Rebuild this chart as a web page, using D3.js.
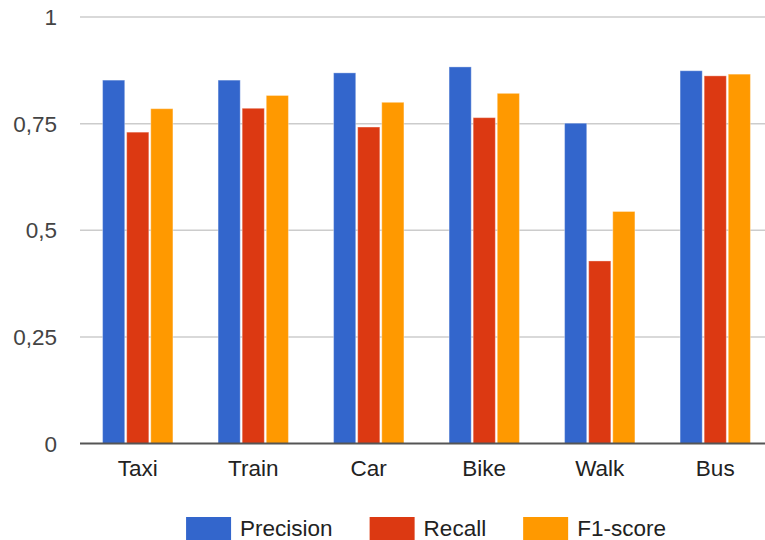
<!DOCTYPE html>
<html>
<head>
<meta charset="utf-8">
<script src="https://cdn.jsdelivr.net/npm/d3@7"></script>
<style>
  html, body { margin: 0; padding: 0; background: #fff; }
  svg { display: block; font-family: "Liberation Sans", Arial, sans-serif; }
</style>
</head>
<body>
<svg id="chart" width="765" height="540"></svg>
<script>
const categories = ["Taxi", "Train", "Car", "Bike", "Walk", "Bus"];
const seriesNames = ["Precision", "Recall", "F1-score"];
const precision = [0.852, 0.852, 0.869, 0.883, 0.751, 0.874];
const recall    = [0.730, 0.786, 0.742, 0.764, 0.428, 0.862];
const f1score   = [0.785, 0.816, 0.800, 0.821, 0.544, 0.866];
const yTicks = [0, 0.25, 0.5, 0.75, 1];
const colors = ["#3366cc", "#dc3912", "#ff9900"];

const seriesValues = [precision, recall, f1score];
const svg = d3.select("#chart");
const FS = 22.5;

const x0 = d3.scaleBand().domain(categories).range([80, 773])
  .paddingInner(0.391).paddingOuter(0.1955);
const x1 = d3.scaleBand().domain(seriesNames).range([0, x0.bandwidth()])
  .paddingInner(0.08).paddingOuter(0);
const y = d3.scaleLinear().domain([0, 1]).range([443.5, 17]);
const color = d3.scaleOrdinal().domain(seriesNames).range(colors);
const fmt = v => String(v).replace(".", ",");

// gridlines
svg.append("g").selectAll("line").data(yTicks.filter(t => t > 0)).join("line")
  .attr("x1", 80).attr("x2", 765)
  .attr("y1", d => y(d)).attr("y2", d => y(d))
  .attr("stroke", "#cccccc").attr("stroke-width", 1.5);

// y labels
svg.append("g").selectAll("text").data(yTicks).join("text")
  .attr("x", 57).attr("y", d => y(d)).attr("dy", "0.36em")
  .attr("text-anchor", "end").attr("font-size", FS).attr("fill", "#444")
  .text(fmt);

// bars
const rows = categories.map((c, i) => ({ c, vals: seriesNames.map((s, j) => ({ s, v: seriesValues[j][i] })) }));
const groups = svg.append("g").selectAll("g").data(rows).join("g")
  .attr("transform", d => `translate(${x0(d.c)},0)`);
groups.selectAll("rect").data(d => d.vals).join("rect")
  .attr("x", d => x1(d.s)).attr("width", x1.bandwidth())
  .attr("y", d => y(d.v)).attr("height", d => y(0) - y(d.v))
  .attr("fill", d => color(d.s))
  .attr("stroke", "#ffffff").attr("stroke-opacity", 0.35).attr("stroke-width", 1);

// baseline
svg.append("line").attr("x1", 80).attr("x2", 765)
  .attr("y1", y(0)).attr("y2", y(0))
  .attr("stroke", "#555").attr("stroke-width", 2);

// x labels
svg.append("g").selectAll("text").data(categories).join("text")
  .attr("x", d => x0(d) + x0.bandwidth() / 2).attr("y", 476)
  .attr("text-anchor", "middle").attr("font-size", FS).attr("fill", "#222")
  .text(d => d);

// legend
const leg = svg.append("g");
const items = leg.selectAll("g").data(seriesNames).join("g");
items.append("rect").attr("x", 0).attr("y", 517).attr("width", 45).attr("height", 25)
  .attr("fill", d => color(d));
items.append("text").attr("x", 54).attr("y", 536).attr("font-size", FS).attr("fill", "#222")
  .text(d => d);
let cx = 0;
const offs = [];
items.each(function () {
  offs.push(cx);
  const w = 54 + d3.select(this).select("text").node().getComputedTextLength();
  cx += w + 37;
});
const total = cx - 37;
const start = 185 + ((667 - 185) - total) / 2;
items.attr("transform", (d, i) => `translate(${start + offs[i]},0)`);
</script>
</body>
</html>
